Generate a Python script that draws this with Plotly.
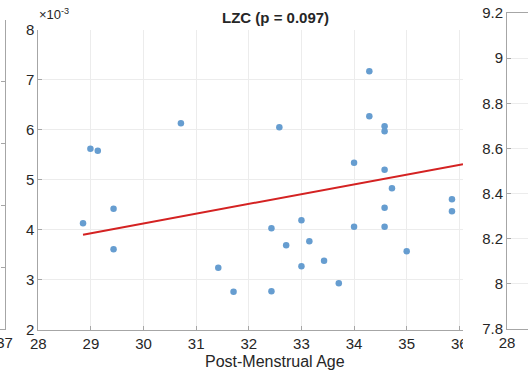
import plotly.graph_objects as go

W, H = 528, 371

# ---- data (LZC values in units of 1e-3) ----
pma = [28.99, 29.13, 30.71, 29.43, 28.85, 29.43, 31.42, 31.71,
       32.58, 34.29, 34.29, 34.58, 34.58, 34.00, 34.58, 34.72, 35.86,
       35.86, 34.58, 34.58, 34.00, 32.43, 33.00, 32.71, 33.15, 33.00,
       33.43, 35.00, 33.71, 32.43]
lzc = [5.62, 5.58, 6.13, 4.42, 4.13, 3.61, 3.24, 2.76,
       6.05, 7.17, 6.27, 6.07, 5.97, 5.34, 5.20, 4.83, 4.61,
       4.37, 4.44, 4.06, 4.06, 4.03, 4.19, 3.69, 3.77, 3.27,
       3.38, 3.57, 2.93, 2.77]
fit_x = [28.85, 36.07]
fit_y = [3.90, 5.31]

x_ticks = [28, 29, 30, 31, 32, 33, 34, 35, 36]
y_ticks = [2, 3, 4, 5, 6, 7, 8]
right_y_ticks = [7.8, 8.0, 8.2, 8.4, 8.6, 8.8, 9.0, 9.2]
right_y_labels = ["7.8", "8", "8.2", "8.4", "8.6", "8.8", "9", "9.2"]
left_x_ticks = [37]

def px(x):
    return x / W

def py(y):
    return 1 - y / H

FONT = "Liberation Sans, Arial, Helvetica, sans-serif"
AX = "#a6a6a6"
GRID = "#ececec"
TXT = "#262626"

fig = go.Figure()
fig.add_trace(go.Scatter(x=pma, y=lzc, mode="markers",
                         marker=dict(size=6.5, color="#669dd0"),
                         xaxis="x", yaxis="y", showlegend=False))
fig.add_trace(go.Scatter(x=fit_x, y=fit_y, mode="lines",
                         line=dict(color="#d42222", width=2),
                         xaxis="x", yaxis="y", showlegend=False))
# right panel (only its axis is visible)
fig.add_trace(go.Scatter(x=[None], y=[None], xaxis="x2", yaxis="y2", showlegend=False))
# left panel (only its edge is visible)
fig.add_trace(go.Scatter(x=[None], y=[None], xaxis="x3", yaxis="y3", showlegend=False))

common = dict(showline=True, linecolor=AX, linewidth=1, gridcolor=GRID, gridwidth=1,
              ticks="inside", ticklen=4, tickcolor=AX, zeroline=False, automargin=False,
              ticklabeloverflow="allow",
              tickfont=dict(family=FONT, size=15, color=TXT))

fig.update_layout(
    width=W, height=H, margin=dict(l=0, r=0, t=0, b=0, autoexpand=False),
    paper_bgcolor="white", plot_bgcolor="white",
    xaxis=dict(domain=[px(38.3), px(463)], range=[28, 36.07], tickvals=x_ticks,
               anchor="y", **common),
    yaxis=dict(domain=[py(329.7), py(29.7)], range=[2, 8], tickvals=y_ticks,
               anchor="x", **common),
    xaxis2=dict(domain=[px(507), 1], range=[28, 28.4], tickvals=[28],
                anchor="y2", mirror=True, **common),
    yaxis2=dict(domain=[py(329), py(13)], range=[7.8, 9.2], tickvals=right_y_ticks,
                ticktext=right_y_labels, anchor="x2", **common),
    xaxis3=dict(domain=[0, px(5)], range=[36.8, 37.02], tickvals=left_x_ticks,
                anchor="y3", **common),
    yaxis3=dict(domain=[py(329), py(20)], range=[0, 1], side="right",
                showticklabels=False, showgrid=False, anchor="x3",
                **{k: v for k, v in common.items() if k not in ("gridcolor", "gridwidth")}),
    shapes=[dict(type="rect", xref="paper", yref="paper",
                 x0=px(463), x1=px(481), y0=0, y1=py(333),
                 fillcolor="white", line=dict(width=0), layer="above")],
    annotations=[
        dict(text="<b>LZC (p = 0.097)</b>", xref="paper", yref="paper",
             x=px(275), y=py(18), showarrow=False, xanchor="center", yanchor="middle",
             font=dict(family=FONT, size=15, color=TXT)),
        dict(text="×10<sup>-3</sup>", xref="paper", yref="paper",
             x=px(37), y=py(14), showarrow=False, xanchor="left", yanchor="middle",
             font=dict(family=FONT, size=13, color=TXT)),
        dict(text="Post-Menstrual Age", xref="paper", yref="paper",
             x=px(275), y=py(361), showarrow=False, xanchor="center", yanchor="middle",
             font=dict(family=FONT, size=16, color=TXT)),
    ],
)

fig.write_html("out.html")
